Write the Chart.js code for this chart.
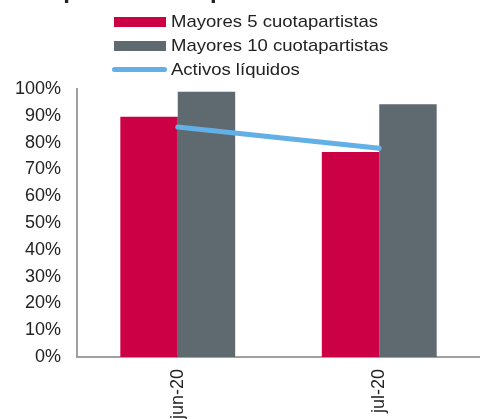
<!DOCTYPE html>
<html>
<head>
<meta charset="utf-8">
<script src="https://cdn.jsdelivr.net/npm/chart.js@4/dist/chart.umd.min.js"></script>
<style>
    html, body { margin: 0; padding: 0; background: #fff; }
    body { width: 480px; height: 419px; overflow: hidden; position: relative;
           font-family: "Liberation Sans", Arial, sans-serif; color: #222; }
    #wrap { position: absolute; left: 0; top: 0; width: 480px; height: 419px; }
    .title { position: absolute; left: 10px; top: -24px; font-size: 24px; line-height: 28px; font-weight: bold; white-space: nowrap; }
    .legend { position: absolute; left: 112px; top: 10px; font-size: 17px; }
    .legend .row { position: relative; height: 24px; line-height: 24px; white-space: nowrap; padding-left: 59px; }
    .legend .txt { display: inline-block; transform: scaleX(1.09); transform-origin: left center; }
    .legend .box { position: absolute; left: 2px; top: 7px; width: 52px; height: 10px; }
    .legend .ln { position: absolute; left: 0; top: 9px; width: 55px; height: 5px; border-radius: 3px; }
</style>
</head>
<body>
<div id="wrap"><canvas id="chart" width="480" height="419"></canvas></div>
<div class="title">Composición del pasivo</div>
<div class="legend" id="legend"></div>
<script>
// datos del gráfico
const categorias = ['jun-20', 'jul-20'];
const mayores5 = [89.6, 76.5];
const mayores10 = [99.0, 94.3];
const activosLiquidos = [85.8, 77.9];
const ticksY = [0, 10, 20, 30, 40, 50, 60, 70, 80, 90, 100];

const rojo = '#cc0044';
const gris = '#5e6970';
const celeste = '#62b0e6';

document.addEventListener('DOMContentLoaded', function() {
    // leyenda manual (alineada a la izquierda como en el original)
    const legend = document.getElementById('legend');
    const items = [
        { label: 'Mayores 5 cuotapartistas', color: rojo, type: 'box' },
        { label: 'Mayores 10 cuotapartistas', color: gris, type: 'box' },
        { label: 'Activos líquidos', color: celeste, type: 'ln' }
    ];
    items.forEach(it => {
        const row = document.createElement('div');
        row.className = 'row';
        const mark = document.createElement('span');
        mark.className = it.type;
        mark.style.background = it.color;
        row.appendChild(mark);
        const txt = document.createElement('span');
        txt.className = 'txt';
        txt.textContent = it.label;
        row.appendChild(txt);
        legend.appendChild(row);
    });

    const ctx = document.getElementById('chart');
    new Chart(ctx, {
        type: 'bar',
        data: {
            labels: categorias,
            datasets: [
                {
                    type: 'line',
                    label: 'Activos líquidos',
                    data: activosLiquidos,
                    borderColor: celeste,
                    borderWidth: 5,
                    borderCapStyle: 'round',
                    pointRadius: 0,
                    fill: false,
                    order: 0
                },
                {
                    label: 'Mayores 5 cuotapartistas',
                    data: mayores5,
                    backgroundColor: rojo,
                    borderWidth: 0,
                    order: 1
                },
                {
                    label: 'Mayores 10 cuotapartistas',
                    data: mayores10,
                    backgroundColor: gris,
                    borderWidth: 0,
                    order: 1
                }
            ]
        },
        options: {
            responsive: false,
            animation: false,
            layout: { padding: { top: 89, left: 0, right: 0, bottom: 0 } },
            datasets: {
                bar: { categoryPercentage: 0.57, barPercentage: 1.0 }
            },
            plugins: {
                legend: { display: false },
                tooltip: { enabled: false }
            },
            scales: {
                x: {
                    grid: { display: false, drawTicks: false },
                    border: { color: '#a0a0a0', width: 2 },
                    ticks: {
                        color: '#222',
                        font: { family: 'Liberation Sans', size: 18 },
                        minRotation: 90,
                        maxRotation: 90,
                        padding: 12
                    },
                    afterFit: function(scale) { scale.height = 62; }
                },
                y: {
                    min: 0,
                    max: 100,
                    afterBuildTicks: function(scale) {
                        scale.ticks = ticksY.map(v => ({ value: v }));
                    },
                    grid: { display: false, drawTicks: false },
                    border: { color: '#a0a0a0', width: 2 },
                    ticks: {
                        color: '#222',
                        font: { family: 'Liberation Sans', size: 18 },
                        padding: 16,
                        callback: v => v + '%'
                    },
                    afterFit: function(scale) { scale.width = 77; }
                }
            }
        }
    });
});
</script>
</body>
</html>
